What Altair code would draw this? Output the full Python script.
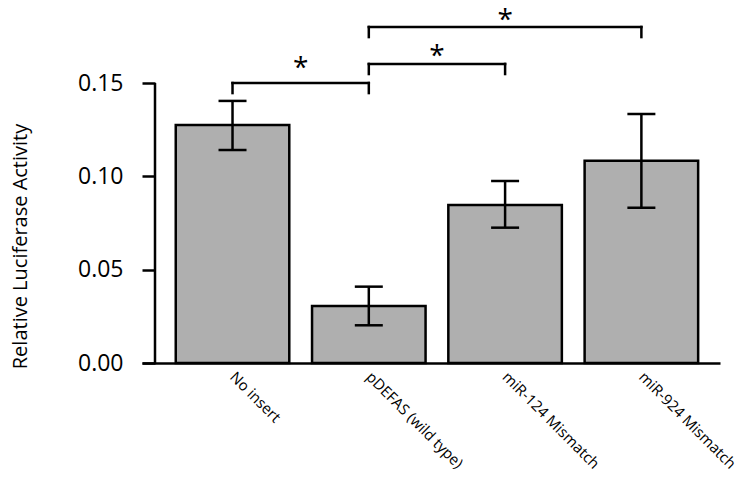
import altair as alt
import pandas as pd

# ---------------- data ----------------
categories = ["No insert", "pDEFAS (wild type)", "miR-124 Mismatch", "miR-924 Mismatch"]
means = [0.1275, 0.0305, 0.0846, 0.1084]
err_low = [0.1141, 0.0202, 0.0725, 0.0832]
err_high = [0.1404, 0.0409, 0.0975, 0.1334]

bracket_from = ["No insert", "pDEFAS (wild type)", "pDEFAS (wild type)"]
bracket_to = ["pDEFAS (wild type)", "miR-124 Mismatch", "miR-924 Mismatch"]
bracket_top = [0.150, 0.1602, 0.180]
bracket_leg = [0.1446, 0.1548, 0.1746]
star_y = [0.1613, 0.1677, 0.187]
star_text = ["*", "*", "*"]

y_ticks = [0.0, 0.05, 0.10, 0.15]
y_title = "Relative Luciferase Activity"

# ---------------- layout ----------------
W, H = 578, 350
Y_MAX = 0.1875
P_IN, P_OUT, ALIGN = 0.167, 0.204, 0.607
FONT = "Open Sans"
LW = 2.5

n = len(categories)
step = W / (n - P_IN + 2 * P_OUT)
start = (W - step * (n - P_IN)) * ALIGN
center0 = start + step * (1 - P_IN) / 2
x_lo = -center0 / step
x_hi = (W - center0) / step

df = pd.DataFrame({"cat": categories, "mean": means, "lo": err_low, "hi": err_high})
br = pd.DataFrame({"from": bracket_from, "to": bracket_to,
                   "top": bracket_top, "leg": bracket_leg})
st = pd.DataFrame({
    "mid": [(categories.index(a) + categories.index(b)) / 2 for a, b in zip(bracket_from, bracket_to)],
    "y": star_y, "t": star_text})

xscale = alt.Scale(domain=categories, paddingInner=P_IN, paddingOuter=P_OUT, align=ALIGN)
yscale = alt.Scale(domain=[0, Y_MAX], nice=False, zero=True)

xaxis = alt.Axis(title=None, labelAngle=45, labelAlign="left", labelBaseline="top",
                 labelFontSize=15, labelFont=FONT, labelColor="black", ticks=False,
                 domain=True, domainColor="black", domainWidth=LW, labelPadding=6,
                 labelOffset=5)
yaxis = alt.Axis(title=y_title, titleFont=FONT, titleFontSize=20, titleFontWeight="normal",
                 titleColor="black", titleAngle=270, titleAlign="center",
                 titleBaseline="middle", titleX=-135, titleY=233,
                 values=y_ticks, format=".2f", domain=False, grid=False,
                 ticks=True, tickSize=13, tickWidth=LW, tickColor="black",
                 labelFontSize=23, labelFont=FONT, labelColor="black",
                 labelPadding=19, offset=-13)

X = alt.X("cat:N", sort=categories, scale=xscale, axis=xaxis)

bars = alt.Chart(df).mark_bar(fill="#afafaf", stroke="black", strokeWidth=LW).encode(
    x=X, y=alt.Y("mean:Q", scale=yscale, axis=yaxis))

err = alt.Chart(df).mark_rule(color="black", strokeWidth=LW).encode(
    x=alt.X("cat:N", sort=categories), y="lo:Q", y2="hi:Q")

caps = alt.Chart(df).transform_fold(["lo", "hi"], as_=["k", "v"]).mark_tick(
    color="black", size=28, thickness=LW, opacity=1).encode(
    x=alt.X("cat:N", sort=categories), y="v:Q")

yline = alt.Chart(pd.DataFrame({"a": [y_ticks[0]], "b": [y_ticks[-1]]})).mark_rule(
    color="black", strokeWidth=LW).encode(x=alt.value(13), y="a:Q", y2="b:Q")

br_h = alt.Chart(br).mark_rule(color="black", strokeWidth=LW, strokeCap="square").encode(
    x=alt.X("from:N", sort=categories), x2="to:N", y="top:Q")

br_v = alt.Chart(br).transform_fold(["from", "to"], as_=["side", "endcat"]).mark_rule(
    color="black", strokeWidth=LW, strokeCap="square").encode(
    x=alt.X("endcat:N", sort=categories), y="leg:Q", y2="top:Q")

stars = alt.Chart(st).mark_text(fontSize=28, font=FONT, color="black", dy=7).encode(
    x=alt.X("mid:Q", scale=alt.Scale(domain=[x_lo, x_hi], nice=False, zero=False), axis=None),
    y=alt.Y("y:Q", scale=yscale),
    text="t:N")

base = alt.layer(bars, err, caps, yline, br_h, br_v)
chart = alt.layer(base, stars).resolve_scale(x="independent").properties(
    width=W, height=H,
    autosize=alt.AutoSizeParams(type="none"),
    padding={"left": 134, "top": 5, "right": 22, "bottom": 112},
).configure(background="white").configure_view(stroke=None, strokeWidth=0)

chart.save("out.html", embed_options={"renderer": "svg", "actions": False})
